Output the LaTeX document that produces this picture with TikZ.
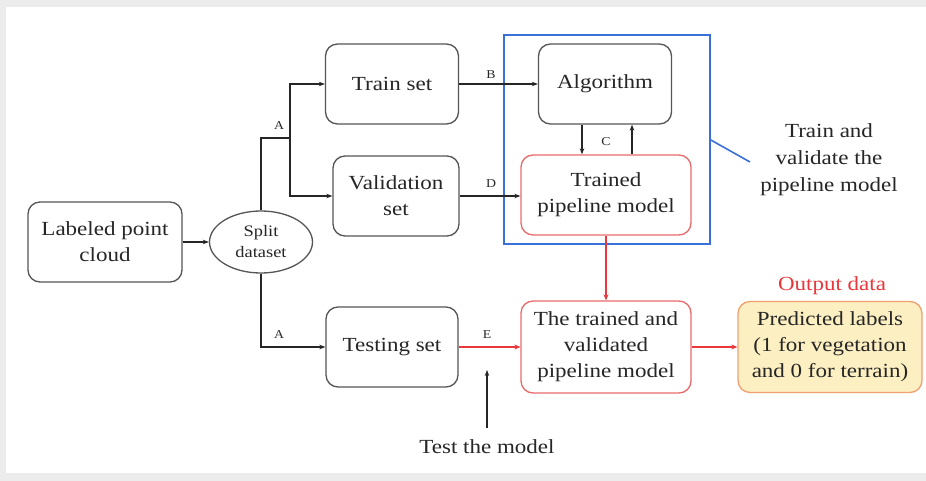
\documentclass[tikz,border=0pt]{standalone}
\usepackage{fontspec}
\setmainfont[FakeStretch=1.15]{Liberation Serif}
\usetikzlibrary{arrows.meta,shapes.geometric}
\definecolor{bg}{HTML}{ECECEC}
\definecolor{boxline}{HTML}{555555}
\definecolor{txt}{HTML}{262626}
\definecolor{redline}{HTML}{E8383C}
\definecolor{redbox}{HTML}{E86A6A}
\definecolor{bluebox}{HTML}{3A70DA}
\definecolor{predfill}{HTML}{FCEFC2}
\definecolor{predline}{HTML}{F0A070}
\tikzset{
  box/.style={draw=boxline, line width=1.3pt, rounded corners=12pt, align=center, text=txt,
    font=\fontsize{20}{26}\selectfont, inner sep=0pt},
  redbx/.style={box, draw=redbox},
  lbl/.style={font=\fontsize{12}{14}\selectfont, text=txt, inner sep=0pt},
  conn/.style={draw=txt, line width=1.6pt, -{Stealth[length=6pt,width=4.5pt]}},
  plain/.style={draw=txt, line width=1.6pt},
  redconn/.style={draw=redline, line width=2.4pt, -{Stealth[length=6pt,width=5pt]}},
}
\begin{document}
\begin{tikzpicture}[x=1pt,y=-1pt]
\useasboundingbox (0,0) rectangle (926,481);
\fill[bg] (0,0) rectangle (926,481);
\fill[white] (6,7) rectangle (926,473);

% blue grouping box
\node[draw=bluebox, line width=1.6pt, minimum width=206pt, minimum height=209pt, inner sep=0pt] (grp) at (607,139.5) {};

\node[box, minimum width=154pt, minimum height=80pt] (lpc) at (105,242) {Labeled point\\cloud};
\node[draw=boxline, line width=1.3pt, ellipse, minimum width=103pt, minimum height=62pt, inner sep=0pt,
  align=center, text=txt, font=\fontsize{16}{21}\selectfont] (split) at (261,242) {Split\\dataset};
\node[box, minimum width=133pt, minimum height=80pt] (train) at (392,84) {Train set};
\node[box, minimum width=126pt, minimum height=80pt] (valid) at (396,196) {Validation\\set};
\node[box, minimum width=132pt, minimum height=80pt] (test) at (392,347) {Testing set};
\node[box, minimum width=133pt, minimum height=80pt] (algo) at (605,84) {Algorithm};
\node[redbx, minimum width=170pt, minimum height=80pt] (tpm) at (606,195) {Trained\\pipeline model};
\node[redbx, minimum width=170pt, minimum height=92pt] (tvm) at (606,347) {The trained and\\validated\\pipeline model};
\node[box, draw=predline, fill=predfill, minimum width=184pt, minimum height=91pt] (pred) at (830,347) {Predicted labels\\(1 for vegetation\\and 0 for terrain)};

\node[text=redline, font=\fontsize{20}{24}\selectfont, inner sep=0pt] (outlbl) at (832,286) {Output data};
\node[align=center, text=txt, font=\fontsize{20}{27}\selectfont, inner sep=0pt] (tvtext) at (829,160) {Train and\\validate the\\pipeline model};
\node[text=txt, font=\fontsize{20}{24}\selectfont, inner sep=0pt] (testlbl) at (487,447) {Test the model};

% connectors
\draw[conn] (lpc.east) -- (split.west);
\coordinate (jA) at (290,138);
\draw[plain] (split.north) |- (jA);
\draw[conn] (jA) |- (train.west);
\draw[conn] (jA) |- (valid.west);
\node[lbl] (la1) at (279,126) {A};
\draw[conn] (split.south) |- (test.west);
\node[lbl] (la2) at (279,335) {A};

\draw[conn] (train.east) -- (algo.west);
\node[lbl] (lb) at (491,75) {B};
\draw[conn] (valid.east) -- (tpm.west |- valid.east);
\node[lbl] (ld) at (491,184) {D};

\draw[conn] ([xshift=-23pt]algo.south) -- ([xshift=-23pt]algo.south |- tpm.north);
\draw[conn] ([xshift=27pt]algo.south |- tpm.north) -- ([xshift=27pt]algo.south);
\node[lbl] (lc) at (606,142) {C};

\draw[redconn] (tpm.south) -- (tvm.north);
\draw[redconn] (test.east) -- (tvm.west);
\node[lbl] (le) at (487,335) {E};
\draw[redconn] (tvm.east) -- (pred.west);

\coordinate (tip) at (487,370);
\coordinate (tailpt) at (487,428);
\draw[conn] (tailpt) -- (tip);

\coordinate (bl1) at (grp.east |- 0,140);
\coordinate (bl2) at (750,162);
\draw[draw=bluebox, line width=1.6pt] (bl1) -- (bl2);
\end{tikzpicture}
\end{document}
